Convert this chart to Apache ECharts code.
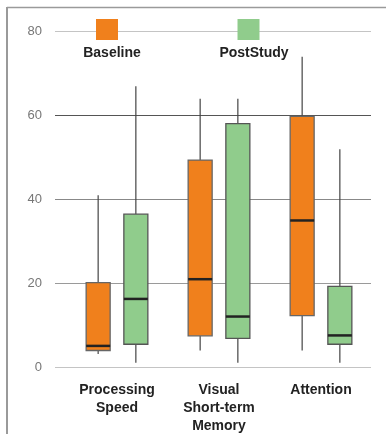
<!DOCTYPE html>
<html>
<head>
<meta charset="utf-8">
<script src="https://cdn.jsdelivr.net/npm/echarts@6/dist/echarts.min.js"></script>
<style>
html,body{margin:0;padding:0;background:#fff;}
#chart{width:386px;height:434px;}
</style>
</head>
<body>
<div id="chart"></div>
<script>
const categories = ['Processing\nSpeed', 'Visual\nShort-term\nMemory', 'Attention'];
const yTicks = [0, 20, 40, 60, 80];

const baselineMin = [3.2, 4, 4];
const baselineQ1 = [4, 7.5, 12.3];
const baselineMedian = [5.1, 21, 35];
const baselineQ3 = [20.2, 49.4, 59.8];
const baselineMax = [41, 64, 74];

const postMin = [1.1, 1.1, 1.1];
const postQ1 = [5.5, 6.9, 5.5];
const postMedian = [16.3, 12.1, 7.6];
const postQ3 = [36.5, 58.1, 19.3];
const postMax = [67, 64, 52];

const FONT = 'Liberation Sans, Arial, sans-serif';

function rows(mins, q1, med, q3, maxs) {
  return categories.map((c, i) => [i, mins[i], q1[i], med[i], q3[i], maxs[i]]);
}

function makeRender(offset, fill, stroke) {
  return function (params, api) {
    const x = api.value(0);
    const c = api.coord([x, 0])[0] + offset;
    const yMin = api.coord([x, api.value(1)])[1];
    const yQ1 = api.coord([x, api.value(2)])[1];
    const yMed = api.coord([x, api.value(3)])[1];
    const yQ3 = api.coord([x, api.value(4)])[1];
    const yMax = api.coord([x, api.value(5)])[1];
    const w = 24;
    return {
      type: 'group',
      children: [
        {type: 'line', shape: {x1: c, y1: yMax, x2: c, y2: yQ3}, style: {stroke: '#444', lineWidth: 1.2}},
        {type: 'line', shape: {x1: c, y1: yQ1, x2: c, y2: yMin}, style: {stroke: '#444', lineWidth: 1.2}},
        {type: 'rect', shape: {x: c - w / 2, y: yQ3, width: w, height: yQ1 - yQ3}, style: {fill: fill, stroke: stroke, lineWidth: 1.3}},
        {type: 'line', shape: {x1: c - w / 2, y1: yMed, x2: c + w / 2, y2: yMed}, style: {stroke: '#222', lineWidth: 2.5}}
      ]
    };
  };
}

const ORANGE = '#F0801C';
const GREEN = '#90CC8C';

const chart = echarts.init(document.getElementById('chart'), null, {renderer: 'canvas'});
chart.setOption({
  animation: false,
  backgroundColor: '#fff',
  grid: [
    {left: 55, right: 15, top: 31.7, bottom: 66.7, containLabel: false, outerBoundsMode: 'none'},
    {left: 66, right: 14, top: 31.7, bottom: 66.7, containLabel: false, outerBoundsMode: 'none'}
  ],
  xAxis: [
    {gridIndex: 0, type: 'value', show: false, min: 0, max: 1},
    {
      gridIndex: 1, type: 'category', data: categories,
      axisLine: {show: false}, axisTick: {show: false},
      axisLabel: {
        margin: 14, color: '#222', fontWeight: 'bold', fontSize: 14,
        fontFamily: FONT, lineHeight: 18
      }
    }
  ],
  yAxis: [
    {
      gridIndex: 0, type: 'value', min: 0, max: 80, interval: 20,
      axisLine: {show: false}, axisTick: {show: false},
      axisLabel: {margin: 13, color: '#777', fontSize: 13, fontFamily: FONT,
        formatter: v => yTicks.includes(v) ? String(v) : ''},
      splitLine: {show: true, lineStyle: {color: ['#c4c4c4', '#9a9a9a', '#888', '#555', '#c4c4c4'], width: 1.2}}
    },
    {gridIndex: 1, type: 'value', min: 0, max: 80, interval: 20, show: false, splitLine: {show: false}}
  ],
  legend: [
    {data: ['Baseline'], left: 96, top: 19, padding: 0, itemWidth: 22, itemHeight: 21, icon: 'rect',
      formatter: () => '', itemStyle: {borderWidth: 0}, textStyle: {fontSize: 1}},
    {data: ['PostStudy'], left: 237.5, top: 19, padding: 0, itemWidth: 22, itemHeight: 21, icon: 'rect',
      formatter: () => '', itemStyle: {borderWidth: 0}, textStyle: {fontSize: 1}}
  ],
  graphic: [
    {type: 'line', shape: {x1: 7, y1: 7.5, x2: 386, y2: 7.5}, style: {stroke: '#9a9a9a', lineWidth: 1.5}, z: 10},
    {type: 'line', shape: {x1: 7, y1: 7, x2: 7, y2: 434}, style: {stroke: '#9a9a9a', lineWidth: 2}, z: 10},
    {type: 'text', x: 112, y: 53.5, style: {text: 'Baseline', align: 'center', verticalAlign: 'middle', font: 'bold 14px ' + FONT, fill: '#222'}, z: 10},
    {type: 'text', x: 254, y: 53.5, style: {text: 'PostStudy', align: 'center', verticalAlign: 'middle', font: 'bold 14px ' + FONT, fill: '#222'}, z: 10}
  ],
  series: [
    {
      name: 'Baseline', type: 'custom', xAxisIndex: 1, yAxisIndex: 1,
      itemStyle: {color: ORANGE},
      renderItem: makeRender(-18.85, ORANGE, '#666'),
      encode: {x: 0, y: [1, 2, 3, 4, 5]},
      data: rows(baselineMin, baselineQ1, baselineMedian, baselineQ3, baselineMax),
      z: 3
    },
    {
      name: 'PostStudy', type: 'custom', xAxisIndex: 1, yAxisIndex: 1,
      itemStyle: {color: GREEN},
      renderItem: makeRender(18.85, GREEN, '#555'),
      encode: {x: 0, y: [1, 2, 3, 4, 5]},
      data: rows(postMin, postQ1, postMedian, postQ3, postMax),
      z: 3
    }
  ]
});
</script>
</body>
</html>
